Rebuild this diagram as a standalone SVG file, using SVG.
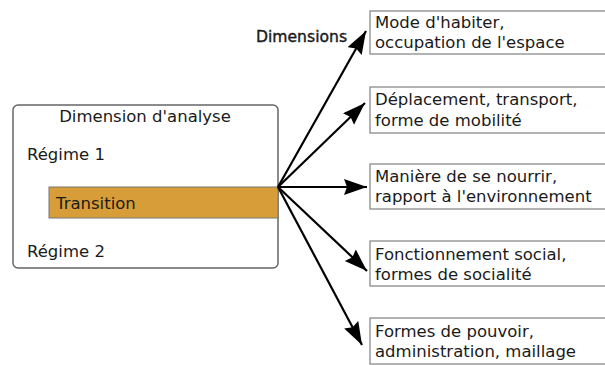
<svg xmlns="http://www.w3.org/2000/svg" width="605" height="365" viewBox="0 0 605 365">
<style>
text{font-family:"DejaVu Sans","Liberation Sans",sans-serif;font-size:16.5px;fill:#1a1a1a}
.box{fill:#fff;stroke:#8a8a8a;stroke-width:1.3}
.conn{stroke:#000;stroke-width:2.2;fill:none;marker-end:url(#ah)}
</style>
<defs>
<marker id="ah" markerUnits="userSpaceOnUse" markerWidth="26" markerHeight="18" refX="23" refY="8" orient="auto" viewBox="0 0 26 18">
<path d="M0,0 L23,8 L0,16 L3,8 Z" fill="#000"/>
</marker>
</defs>
<rect width="605" height="365" fill="#fff"/>
<g id="analyse">
<rect x="13" y="105" width="265" height="163" rx="5" fill="#fff" stroke="#666" stroke-width="1.5"/>
<text x="145" y="122" text-anchor="middle">Dimension d'analyse</text>
<text x="27" y="160">Régime 1</text>
<text x="27" y="257">Régime 2</text>
</g>
<g id="transition">
<rect x="49" y="187" width="229" height="31" fill="#D69D38" stroke="#777" stroke-width="1"/>
<text x="56" y="209">Transition</text>
</g>
<g id="dimensions-label">
<text x="256" y="42" style="font-size:15.6px;stroke:#1a1a1a;stroke-width:0.4">Dimensions</text>
</g>
<g id="connectors">
<line class="conn" x1="278" y1="187" x2="366" y2="31"/>
<line class="conn" x1="278" y1="187" x2="365" y2="103"/>
<line class="conn" x1="278" y1="187" x2="367" y2="187"/>
<line class="conn" x1="278" y1="187" x2="367" y2="271"/>
<line class="conn" x1="278" y1="187" x2="362" y2="345"/>
</g>
<g id="d1">
<rect class="box" x="370" y="11" width="240" height="43"/>
<text x="375" y="28">Mode d'habiter,</text>
<text x="375" y="48">occupation de l'espace</text>
</g>
<g id="d2">
<rect class="box" x="370" y="87" width="240" height="46"/>
<text x="375" y="105">Déplacement, transport,</text>
<text x="375" y="126">forme de mobilité</text>
</g>
<g id="d3">
<rect class="box" x="370" y="164" width="240" height="45"/>
<text x="375" y="182">Manière de se nourrir,</text>
<text x="375" y="202">rapport à l'environnement</text>
</g>
<g id="d4">
<rect class="box" x="370" y="241" width="240" height="45"/>
<text x="375" y="260">Fonctionnement social,</text>
<text x="375" y="280">formes de socialité</text>
</g>
<g id="d5">
<rect class="box" x="370" y="318" width="240" height="46"/>
<text x="375" y="337">Formes de pouvoir,</text>
<text x="375" y="357">administration, maillage</text>
</g>
</svg>
